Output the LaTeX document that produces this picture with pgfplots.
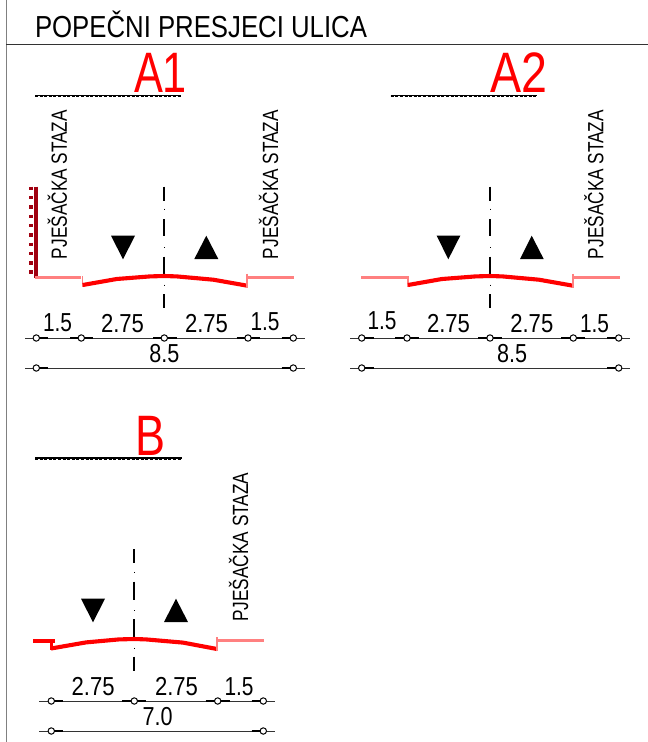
\documentclass[border=0pt]{standalone}
\usepackage{graphicx}
\usepackage{fontspec}
\setmainfont{Liberation Sans}
\usepackage{pgfplots}
\pgfplotsset{compat=1.18}

\definecolor{pinkline}{HTML}{FF8080}
\definecolor{wallred}{HTML}{A00010}
\definecolor{dimline}{HTML}{333333}

% one text piece: size, ink width, text
\newcommand{\T}[3]{\fontsize{#1}{#1}\selectfont\resizebox{#2pt}{\height}{#3}}
\tikzset{lab/.style={anchor=base west, inner sep=0pt, outer sep=0pt}}

\pgfplotsset{
  road/.style={red, line width=4.1pt, line join=round},
  walk/.style={pinkline, line width=3.3pt},
  kerb/.style={pinkline, line width=1.6pt},
  axisdash/.style={black, line width=2pt},
  axisdot/.style={black, line width=0.8pt},
  dim/.style={dimline, line width=1pt},
  dimthick/.style={black, line width=1.7pt},
  dimnode/.style={only marks, mark=*, mark size=3.2pt, mark options={fill=white, draw=black, line width=1pt}},
  under/.style={black, line width=1.5pt},
  underhatch/.style={black, line width=1.3pt, dash pattern=on 3pt off 1.6pt},
  arrow/.style={black, fill=black, draw=none},
}

\begin{document}
\begin{tikzpicture}
\begin{axis}[
  scale only axis, width=648pt, height=742pt,
  xmin=0, xmax=648, ymin=0, ymax=742, y dir=reverse,
  hide axis, unbounded coords=jump,
]
% keeps the full sheet in the bounding box
\addplot[draw=none, line width=0pt] coordinates {(0,0) (648,742)};
% frame
\addplot[color=gray, line width=1.5pt] coordinates {(6.6,0) (6.6,742)};
\addplot[color=dimline, line width=1.2pt] coordinates {(6,44.4) (648,44.4)};

% section underlines
\addplot[under] coordinates {(35,95.3) (181,95.3)};
\addplot[underhatch] coordinates {(35,96.6) (181,96.6)};
\addplot[under] coordinates {(390.7,95.3) (536.7,95.3)};
\addplot[underhatch] coordinates {(390.7,96.6) (536.7,96.6)};
\addplot[under] coordinates {(35,458.2) (181.7,458.2)};
\addplot[underhatch] coordinates {(35,459.5) (181.7,459.5)};

% A1 wall
\addplot[wallred, line width=3.4pt] coordinates {(36,186.7) (36,278)};
\addplot[wallred, line width=3.6pt, dash pattern=on 3.4pt off 5.9pt] coordinates {(31.2,186.7) (31.2,278)};

% A1 centre line
\addplot[axisdash] coordinates {(164.3,186.7) (164.3,200.7) (164.3,nan) (164.3,219) (164.3,236) (164.3,nan) (164.3,256.7) (164.3,275) (164.3,nan) (164.3,294) (164.3,308.3)};
\addplot[axisdot] coordinates {(164.3,208.5) (164.3,209.5) (164.3,nan) (164.3,247.2) (164.3,248.2) (164.3,nan) (164.3,284.5) (164.3,285.5)};
% A2 centre line
\addplot[axisdash] coordinates {(490,186.7) (490,200.7) (490,nan) (490,219) (490,236) (490,nan) (490,256.7) (490,275) (490,nan) (490,294) (490,308.3)};
\addplot[axisdot] coordinates {(490,208.5) (490,209.5) (490,nan) (490,247.2) (490,248.2) (490,nan) (490,284.5) (490,285.5)};
% B centre line
\addplot[axisdash] coordinates {(134.3,549.3) (134.3,563.3) (134.3,nan) (134.3,581.7) (134.3,600) (134.3,nan) (134.3,619.3) (134.3,638.3) (134.3,nan) (134.3,656.7) (134.3,671)};
\addplot[axisdot] coordinates {(134.3,571.8) (134.3,572.8) (134.3,nan) (134.3,610.2) (134.3,611.2) (134.3,nan) (134.3,647.8) (134.3,648.8)};

% A1 section
\addplot[walk] coordinates {(35,277.3) (81,277.3)};
\addplot[kerb] coordinates {(82.5,276) (82.5,287)};
\addplot[road] coordinates {(82.7,285) (116.7,279) (150,276.4) (164.3,276) (176.7,276.4) (213.3,279.7) (247.3,285.7)};
\addplot[walk] coordinates {(248,277.3) (294,277.3)};
\addplot[kerb] coordinates {(247.2,273.7) (247.2,288)};
% A2 section
\addplot[walk] coordinates {(361,277.3) (407,277.3)};
\addplot[kerb] coordinates {(408,276) (408,287)};
\addplot[road] coordinates {(408,285) (442,279) (475.7,276.4) (490,276) (502.4,276.4) (539,279.7) (573,285.7)};
\addplot[walk] coordinates {(573.5,277.3) (619.5,277.3)};
\addplot[kerb] coordinates {(572.9,273.7) (572.9,288)};
% B section
\addplot[road, line width=4.4pt] coordinates {(33,640.7) (54.5,640.7)};
\addplot[red, line width=3pt] coordinates {(51,640.7) (51,650)};
\addplot[road] coordinates {(51,648.5) (86,642.4) (119,639.4) (134.3,639) (146,639.4) (183,642.6) (217,649)};
\addplot[walk] coordinates {(217.7,640.2) (263.5,640.2)};
\addplot[kerb] coordinates {(217,637) (217,651)};

% direction arrows
\addplot[arrow] coordinates {(111,235.7) (135,235.7) (123,259.3)} -- cycle;
\addplot[arrow] coordinates {(194.3,259) (218.3,259) (206.3,235.7)} -- cycle;
\addplot[arrow] coordinates {(436.7,235.7) (460.3,235.7) (448.3,259.3)} -- cycle;
\addplot[arrow] coordinates {(520,259) (543.7,259) (531.7,235.7)} -- cycle;
\addplot[arrow] coordinates {(81,598.7) (105,598.7) (93,622.3)} -- cycle;
\addplot[arrow] coordinates {(164,622) (188,622) (176,598.7)} -- cycle;

% A1 dimensions
\addplot[dim] coordinates {(25,338) (305,338)};
\addplot[dimthick] coordinates {(36.3,338) (47.7,338) (47.7,nan) (70,338) (93.3,338) (93.3,nan) (153.3,338) (176.7,338) (176.7,nan) (236.7,338) (260,338) (260,nan) (281.7,338) (293.3,338)};
\addplot[dimnode] coordinates {(36.3,338) (81.3,338) (164.3,338) (248,338) (293.3,338)};
\addplot[dim] coordinates {(25,368) (305,368)};
\addplot[dimthick] coordinates {(36.3,368) (47.7,368) (47.7,nan) (281.7,368) (293.3,368)};
\addplot[dimnode] coordinates {(36.3,368) (293.3,368)};
% A2 dimensions
\addplot[dim] coordinates {(350,338) (630,338)};
\addplot[dimthick] coordinates {(361.7,338) (373.7,338) (373.7,nan) (395,338) (419,338) (419,nan) (478,338) (502,338) (502,nan) (561.3,338) (585.3,338) (585.3,nan) (607,338) (618.7,338)};
\addplot[dimnode] coordinates {(361.7,338) (407,338) (490,338) (573.3,338) (618.7,338)};
\addplot[dim] coordinates {(350,368) (630,368)};
\addplot[dimthick] coordinates {(361.7,368) (373.7,368) (373.7,nan) (607,368) (618.7,368)};
\addplot[dimnode] coordinates {(361.7,368) (618.7,368)};
% B dimensions
\addplot[dim] coordinates {(39.3,701) (275,701)};
\addplot[dimthick] coordinates {(51.3,701) (63,701) (63,nan) (122.3,701) (146.3,701) (146.3,nan) (205.7,701) (229.7,701) (229.7,nan) (251.5,701) (263.3,701)};
\addplot[dimnode] coordinates {(51.3,701) (134.3,701) (217.7,701) (263.3,701)};
\addplot[dim] coordinates {(39.3,731) (275,731)};
\addplot[dimthick] coordinates {(51.3,731) (63,731) (63,nan) (251.5,731) (263.3,731)};
\addplot[dimnode] coordinates {(51.3,731) (263.3,731)};

% titles
\node[lab] at (axis cs:35,37) {\T{30.4}{332}{POPEČNI PRESJECI ULICA}};
\node[lab, text=red] at (axis cs:134,92.5) {\T{57}{53}{A1}};
\node[lab, text=red] at (axis cs:490,92) {\T{57}{57}{A2}};
\node[lab, text=red] at (axis cs:135,455) {\T{57}{30}{B}};

% street labels
\node[lab, rotate=90] at (axis cs:66.8,259) {\T{22}{149}{PJEŠAČKA STAZA}};
\node[lab, rotate=90] at (axis cs:278,259) {\T{22}{149}{PJEŠAČKA STAZA}};
\node[lab, rotate=90] at (axis cs:603.3,259) {\T{22}{149}{PJEŠAČKA STAZA}};
\node[lab, rotate=90] at (axis cs:248,621.7) {\T{22}{149}{PJEŠAČKA STAZA}};

% dimension numbers A1
\node[lab] at (axis cs:43,331.7) {\T{26}{29}{1.5}};
\node[lab] at (axis cs:101,332.3) {\T{26}{43}{2.75}};
\node[lab] at (axis cs:185,332.3) {\T{26}{43}{2.75}};
\node[lab] at (axis cs:250.5,330) {\T{26}{29}{1.5}};
\node[lab] at (axis cs:149.3,362.3) {\T{26}{30}{8.5}};
% dimension numbers A2
\node[lab] at (axis cs:367.5,329) {\T{26}{29}{1.5}};
\node[lab] at (axis cs:427,332) {\T{26}{43}{2.75}};
\node[lab] at (axis cs:510.3,332) {\T{26}{43}{2.75}};
\node[lab] at (axis cs:580,332) {\T{26}{29}{1.5}};
\node[lab] at (axis cs:497,362) {\T{26}{30}{8.5}};
% dimension numbers B
\node[lab] at (axis cs:71.6,695) {\T{26}{43}{2.75}};
\node[lab] at (axis cs:155,695) {\T{26}{43}{2.75}};
\node[lab] at (axis cs:224.5,695) {\T{26}{29}{1.5}};
\node[lab] at (axis cs:142.6,725) {\T{26}{30}{7.0}};
\end{axis}
\end{tikzpicture}
\end{document}
